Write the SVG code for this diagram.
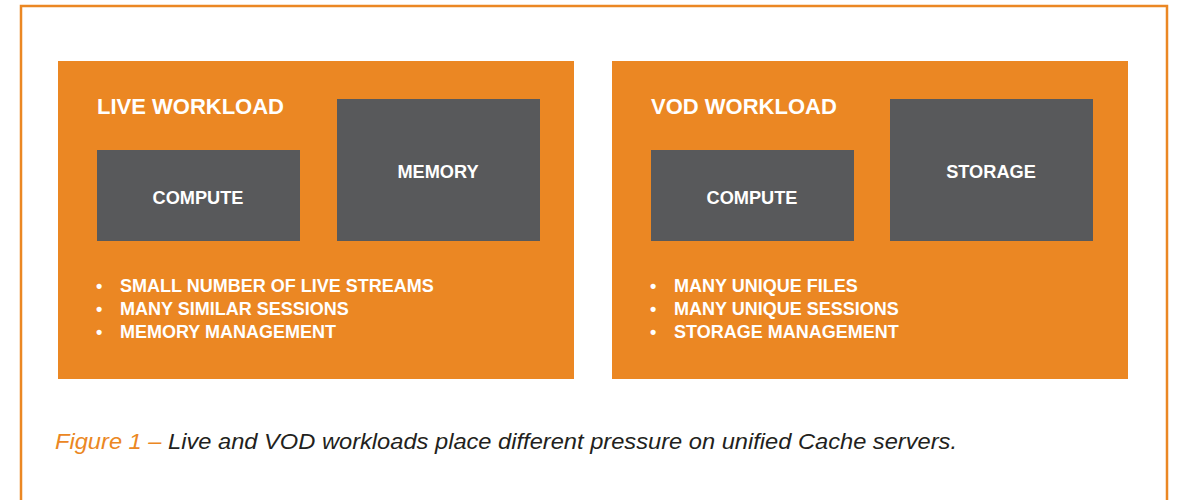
<svg xmlns="http://www.w3.org/2000/svg" width="1177" height="500" viewBox="0 0 1177 500">
<style>
.panel{fill:#EB8723}
.box{fill:#58595B}
.title{font-family:"Liberation Sans",Arial,sans-serif;font-weight:bold;font-size:22px;fill:#fff}
.lbl{font-family:"Liberation Sans",Arial,sans-serif;font-weight:bold;font-size:18.2px;fill:#fff;text-anchor:middle}
.bul{font-family:"Liberation Sans",Arial,sans-serif;font-weight:bold;font-size:18px;fill:#fff}
.cap{font-family:"Liberation Sans",Arial,sans-serif;font-style:italic;font-size:22.5px;fill:#231F20}
</style>
<rect width="1177" height="500" fill="#fff"/>
<path d="M21 510 V6 H1167 V510" fill="none" stroke="#EB8723" stroke-width="2.5"/>
<g id="live">
<rect class="panel" x="58" y="61" width="516" height="318"/>
<text class="title" x="97" y="114">LIVE WORKLOAD</text>
<g id="live-compute"><rect class="box" x="97" y="150" width="203" height="91"/><text class="lbl" x="198" y="204">COMPUTE</text></g>
<g id="live-memory"><rect class="box" x="337" y="99" width="203" height="142"/><text class="lbl" x="438" y="178">MEMORY</text></g>
<text class="bul" x="96" y="292">•<tspan x="120">SMALL NUMBER OF LIVE STREAMS</tspan></text>
<text class="bul" x="96" y="315">•<tspan x="120">MANY SIMILAR SESSIONS</tspan></text>
<text class="bul" x="96" y="338">•<tspan x="120">MEMORY MANAGEMENT</tspan></text>
</g>
<g id="vod">
<rect class="panel" x="612" y="61" width="516" height="318"/>
<text class="title" x="651" y="114">VOD WORKLOAD</text>
<g id="vod-compute"><rect class="box" x="651" y="150" width="203" height="91"/><text class="lbl" x="752" y="204">COMPUTE</text></g>
<g id="vod-storage"><rect class="box" x="890" y="99" width="203" height="142"/><text class="lbl" x="991" y="178">STORAGE</text></g>
<text class="bul" x="650" y="292">•<tspan x="674">MANY UNIQUE FILES</tspan></text>
<text class="bul" x="650" y="315">•<tspan x="674">MANY UNIQUE SESSIONS</tspan></text>
<text class="bul" x="650" y="338">•<tspan x="674">STORAGE MANAGEMENT</tspan></text>
</g>
<g id="connectors"/>
<text class="cap" x="55" y="449" textLength="902" lengthAdjust="spacingAndGlyphs"><tspan fill="#EB8723">Figure 1 –</tspan> Live and VOD workloads place different pressure on unified Cache servers.</text>
</svg>
